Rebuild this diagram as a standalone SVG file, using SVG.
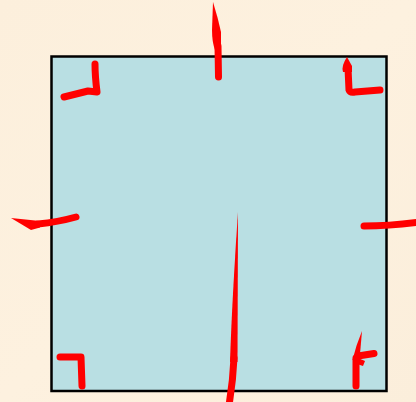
<svg xmlns="http://www.w3.org/2000/svg" width="416" height="402" viewBox="0 0 416 402">
  <style>
    .s { fill: none; stroke: #ff0000; stroke-width: 7; stroke-linecap: round; stroke-linejoin: round; }
    .f { fill: #ff0000; stroke: none; }
  </style>
  <defs>
    <linearGradient id="bg" x1="0" y1="0" x2="1" y2="1">
      <stop offset="0" stop-color="#fcefdc"/>
      <stop offset="0.5" stop-color="#fdf1df"/>
      <stop offset="1" stop-color="#fbeedb"/>
    </linearGradient>
  </defs>
  <rect x="0" y="0" width="416" height="402" fill="url(#bg)"/>
  <g id="square">
    <rect x="51.5" y="56.5" width="335" height="334.5" fill="#b9dfe3" stroke="#000" stroke-width="2.5"/>
  </g>
  <g id="marks">
    <g id="top-center">
      <path class="f" d="M213,2 Q218,18 221,32 L221,50 L215,50 Q212,42 212,30 Z"/>
      <path class="s" d="M218,46 L218.5,77"/>
    </g>
    <g id="top-left">
      <path class="s" d="M95,64 Q95,76 97,92 L88,91 Q76,94 64,97"/>
    </g>
    <g id="top-right">
      <path class="f" d="M347,57 L352,66 L352,72 L343,72 Q341,66 347,57 Z"/>
      <path class="s" d="M348,68 L349,90 Q350,93 355,92 L380,90"/>
    </g>
    <g id="left-middle">
      <path class="f" d="M11,218 L40,221 L40,227.5 L31,230 Z"/>
      <path class="s" d="M38,224 Q58,222 76,217"/>
    </g>
    <g id="right-middle">
      <path class="s" d="M364,226 Q390,226 420,222"/>
    </g>
    <g id="center">
      <path class="f" d="M238,212 L237.5,362 L230,362 Q232,300 238,212 Z"/>
      <path class="s" d="M234,358 Q233,380 229.5,402"/>
    </g>
    <g id="bottom-left">
      <path class="s" d="M60,357 L81,357 L82,386"/>
    </g>
    <g id="bottom-right">
      <path class="f" d="M362,331 L359.5,360 L352.5,360 Q356,345 362,331 Z"/>
      <path class="f" d="M358,358 L365,361 L363,366 L357,364 Z"/>
      <path class="s" d="M356,358 L356,386"/>
      <path class="s" d="M358,356 L374,353.5"/>
    </g>
  </g>
</svg>
